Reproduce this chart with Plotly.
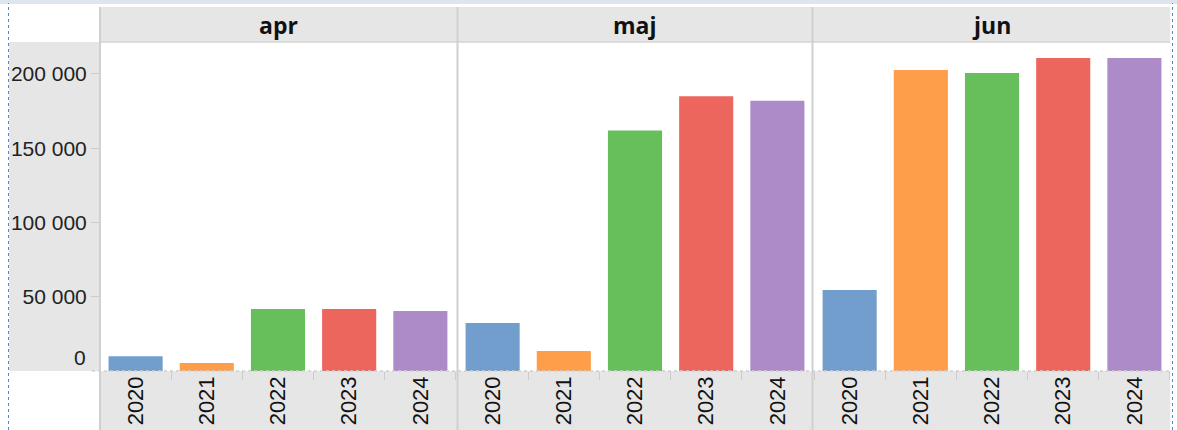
import plotly.graph_objects as go
from plotly.subplots import make_subplots

months = ["apr", "maj", "jun"]
years = ["2020", "2021", "2022", "2023", "2024"]
values = {
    "apr": [10000, 5400, 41800, 41800, 40400],
    "maj": [32300, 13500, 162000, 185000, 182000],
    "jun": [54500, 202700, 200700, 210800, 210800],
}
colors = ["#729ECE", "#FF9E4A", "#67BF5C", "#ED665D", "#AD8BC9"]
ytick_vals = [50000, 100000, 150000, 200000]

W, H = 1177, 430
L, R, T, B = 100, 7, 42, 59

fig = make_subplots(rows=1, cols=3, shared_yaxes=True, horizontal_spacing=0.001)
for i, m in enumerate(months):
    fig.add_trace(go.Bar(x=years, y=values[m], marker_color=colors, marker_line_width=0,
                         showlegend=False, hoverinfo="x+y"), row=1, col=i + 1)

tickfont = dict(family="Liberation Sans, Arial, sans-serif", size=21, color="#222")
xtickfont = dict(family="Liberation Sans, Arial, sans-serif", size=22, color="#111")
for i in range(3):
    fig.update_xaxes(row=1, col=i + 1, type="category", tickangle=-90, tickfont=xtickfont,
                     ticks="outside", tickson="boundaries", ticklen=8, tickcolor="#cccccc",
                     showgrid=False, zeroline=False, showline=False, fixedrange=True,
                     automargin=False)
fig.update_yaxes(range=[0, 221500], showgrid=False, zeroline=False, fixedrange=True,
                 automargin=False)
fig.update_yaxes(tickvals=ytick_vals, tickformat=",d", tickfont=tickfont, ticks="outside",
                 ticklen=8, tickcolor="#cccccc", showticklabels=True, row=1, col=1)
fig.update_yaxes(showticklabels=False, ticks="", row=1, col=2)
fig.update_yaxes(showticklabels=False, ticks="", row=1, col=3)

pw = (W - L - R)
ph = (H - T - B)
def px(x):
    return (x - L) / pw
def py(y):
    return (H - B - y) / ph

grey = "#e6e6e6"
shapes = []
shapes.append(dict(type="rect", xref="paper", yref="paper", x0=px(9), x1=px(100), y0=0, y1=1,
                   fillcolor=grey, line_width=0, layer="below"))
shapes.append(dict(type="rect", xref="paper", yref="paper", x0=px(100), x1=px(1170), y0=1, y1=py(7),
                   fillcolor=grey, line_width=0, layer="below"))
shapes.append(dict(type="rect", xref="paper", yref="paper", x0=px(100), x1=px(1170), y0=py(430), y1=0,
                   fillcolor=grey, line_width=0, layer="below"))
shapes.append(dict(type="rect", xref="paper", yref="paper", x0=px(0), x1=px(1177), y0=py(4), y1=py(0),
                   fillcolor="#dde6ef", line_width=0, layer="below"))
shapes.append(dict(type="line", xref="paper", yref="paper", x0=px(100), x1=px(1170), y0=1, y1=1,
                   line=dict(color="#d4d4d4", width=1.5)))
for xs in [100, 457.5, 812.5]:
    shapes.append(dict(type="line", xref="paper", yref="paper", x0=px(xs), x1=px(xs), y0=py(430), y1=py(7),
                       line=dict(color="#d0d0d0", width=2)))
shapes.append(dict(type="line", xref="paper", yref="paper", x0=px(92), x1=px(1170), y0=0, y1=0,
                   line=dict(color="#cfcfcf", width=1.5, dash="dot")))
for xs in [8.5, 1172.5]:
    shapes.append(dict(type="line", xref="paper", yref="paper", x0=px(xs), x1=px(xs), y0=py(430), y1=py(3),
                       line=dict(color="#5b86c5", width=1, dash="dot")))

annotations = []
centers = [(100 + 457) / 2, (458 + 812) / 2, (813 + 1170) / 2]
for m, c in zip(months, centers):
    annotations.append(dict(text=m, xref="paper", yref="paper", x=px(c), y=py(25), showarrow=False,
                            xanchor="center", yanchor="middle",
                            font=dict(family="Open Sans, sans-serif", size=23, color="#111", weight="bold")))
annotations.append(dict(text="0", xref="paper", yref="paper", x=px(88), y=py(357), showarrow=False,
                        xanchor="right", yanchor="middle", font=tickfont))

fig.update_layout(width=W, height=H, margin=dict(l=L, r=R, t=T, b=B), paper_bgcolor="white",
                  plot_bgcolor="white", bargap=0.24, separators=", ", shapes=shapes,
                  annotations=annotations)

fig.write_html("out.html", config={"displayModeBar": False},
               post_script="document.body.style.margin='0';document.body.style.overflow='hidden';")
